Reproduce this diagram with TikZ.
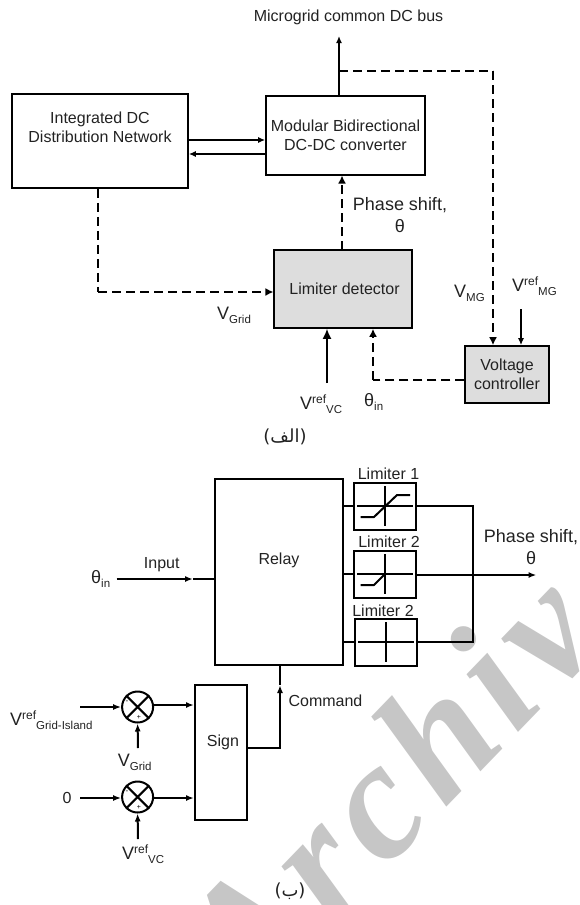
\documentclass[tikz,border=0pt]{standalone}
\usepackage{fontspec}
\usepackage{xcolor}
\setmainfont{Liberation Sans}
\newfontfamily\markfont[LetterSpace=6]{Liberation Serif}
\newfontfamily\arabicfont[Script=Arabic]{DejaVu Sans}
\TeXXeTstate=1
\usetikzlibrary{arrows.meta}
\definecolor{inkdark}{HTML}{222222}
\definecolor{boxgray}{HTML}{DDDDDD}
\definecolor{markgray}{HTML}{C6C6C6}
\newcommand{\supsub}[3]{{\fontsize{18}{18}\selectfont #1}\raisebox{6pt}{\fontsize{12}{12}\selectfont #2}\raisebox{-4pt}{\fontsize{11.5}{12}\selectfont #3}}
\tikzset{
txt/.style={inner sep=0pt,text=inkdark,font=\fontsize{16}{19}\selectfont,align=center},
bigtxt/.style={inner sep=0pt,text=inkdark,font=\fontsize{18}{22}\selectfont,align=center},
blockbox/.style={draw=black,line width=1.6pt,minimum width=#1,inner sep=0pt,text=inkdark,font=\fontsize{16}{19}\selectfont,align=center},
limbox/.style={draw=black,line width=2pt,minimum width=62pt,minimum height=47pt,inner sep=0pt},
sumnode/.style={draw=black,line width=2pt,circle,minimum size=31pt,inner sep=0pt},
link/.style={line width=1.6pt},
flow/.style={link,-{Latex[length=7pt,width=6pt]}},
dashlink/.style={link,dash pattern=on 9pt off 5pt},
dashflow/.style={dashlink,-{Latex[length=8pt,width=8pt]}},
wire/.style={line width=2pt},
heavy/.style={wire,-{Latex[length=8pt,width=6pt]}}
}
\begin{document}
\begin{tikzpicture}[x=1pt,y=-1pt]
\useasboundingbox (0,0) rectangle (580,905);
\begin{scope}
\clip (0,0) rectangle (580,905);
\node[rotate=46,anchor=base west,inner sep=0pt,text=markgray,font=\markfont\bfseries\itshape\fontsize{168}{168}\selectfont] (watermark) at (248,1013) {Archiv};
\end{scope}
% upper diagram
\node[blockbox=176pt,minimum height=94pt] (network) at (100,141) {Integrated DC\\Distribution Network\\[9pt]};
\node[blockbox=159pt,minimum height=79pt] (converter) at (345.5,135.5) {Modular Bidirectional\\DC-DC converter};
\node[blockbox=137.5pt,minimum height=78pt,fill=boxgray] (detector) at (343,289) {\hspace{3pt}Limiter detector};
\node[blockbox=83.5pt,minimum height=57pt,fill=boxgray] (voltage) at (507,374.5) {Voltage\\controller};
\node[txt] (bus) at (348.5,17) {Microgrid common DC bus};
\node[bigtxt] (phaseA) at (400,215) {Phase shift,\\θ};
\node[txt,anchor=west] (vgridA) at (217,315) {\supsub{V}{}{Grid}};
\node[txt,anchor=west] (vmg) at (454,293) {\supsub{V}{}{MG}};
\node[txt,anchor=west] (vrefmg) at (512,286) {\supsub{V}{ref}{MG}};
\node[txt,anchor=west] (vrefvcA) at (300,404) {\supsub{V}{ref}{VC}};
\node[txt,anchor=west] (thetainA) at (364,402) {\supsub{θ}{}{in}};
\node[txt,font=\arabicfont\fontsize{18}{20}\selectfont] (captionA) at (285,437) {\beginR(الف)\endR};
\coordinate (busTip) at (339,36);
\coordinate (tapDash) at (339,71);
\coordinate (cornerMG) at (493,71);
\coordinate (gridDown) at (98,292);
\coordinate (startMG) at (521,309);
\coordinate (startVC) at (327,383);
\coordinate (cornerIn) at (373,380);
\draw[flow] (converter.north -| busTip) -- (busTip);
\draw[dashlink] (tapDash) -- (cornerMG);
\draw[dashflow] (cornerMG) -- (cornerMG |- voltage.north);
\draw[flow] (network.east |- 0,140) -- (converter.west |- 0,140);
\draw[flow] (converter.west |- 0,154) -- (network.east |- 0,154);
\draw[dashflow] (342,250) -- (342,175.5);
\draw[dashlink] (gridDown |- network.south) -- (gridDown);
\draw[dashflow] (gridDown) -- (detector.west |- gridDown);
\draw[flow] (startMG) -- (startMG |- voltage.north);
\draw[line width=1.6pt,-{Latex[length=10pt,width=9pt]}] (startVC) -- (startVC |- detector.south);
\draw[dashlink] (voltage.west |- cornerIn) -- (cornerIn);
\draw[dashflow] (cornerIn) -- (cornerIn |- detector.south);
% lower diagram
\node[blockbox=128.7pt,minimum height=186pt,line width=2pt] (relay) at (279,572) {Relay\\[8pt]};
\node[blockbox=52pt,minimum height=135pt,line width=2pt] (sign) at (221,752.5) {\hspace{4pt}Sign\\[4pt]};
\node[limbox] (limA) at (385,506) {};
\node[limbox] (limB) at (385,574) {};
\node[limbox] (limC) at (386,642) {};
\node[txt] (limTextA) at (388.5,473.5) {Limiter 1};
\node[txt] (limTextB) at (389,542) {Limiter 2};
\node[txt] (limTextC) at (383,610.5) {Limiter 2};
\foreach \n in {limA,limB,limC}
\draw[line width=2pt,shift={(\n.center)}] (-28,0)--(28,0) (0,-20)--(0,20);
\draw[line width=2pt,shift={(limA.center)},line join=round] (-24.5,11)--(-11,11)--(12,-11)--(25,-11);
\draw[line width=2pt,shift={(limB.center)},line join=round] (-24.5,11)--(-11,11)--(0,0);
\node[sumnode] (sumA) at (137.6,707) {};
\node[sumnode] (sumB) at (137.6,797) {};
\foreach \n in {sumA,sumB}
\draw[line width=2pt] (\n.45)--(\n.225) (\n.135)--(\n.315);
\node[inner sep=0pt,font=\fontsize{8}{8}\selectfont] (minusA) at (127,702) {-};
\node[inner sep=0pt,font=\fontsize{8}{8}\selectfont] (minusB) at (127,792) {-};
\node[inner sep=0pt,font=\fontsize{7}{7}\selectfont] (plusA) at (139,717) {+};
\node[inner sep=0pt,font=\fontsize{7}{7}\selectfont] (plusB) at (139,807) {+};
\node[bigtxt] (phaseB) at (531,547) {Phase shift,\\θ};
\node[txt,anchor=west] (thetainB) at (91,579) {\supsub{θ}{}{in}};
\node[txt] (inputB) at (161.7,565) {Input};
\node[txt] (command) at (325.5,701) {Command};
\node[txt,anchor=west] (vrefisland) at (10,720) {\supsub{V}{ref}{Grid-Island}};
\node[txt,anchor=west] (vgridB) at (117.6,762) {\supsub{V}{}{Grid}};
\node[txt] (zero) at (67,798) {0};
\node[txt,anchor=west] (vrefvcB) at (122,854) {\supsub{V}{ref}{VC}};
\node[txt,font=\arabicfont\fontsize{18}{20}\selectfont] (captionB) at (290,891) {\beginR(ب)\endR};
\coordinate (busEnd) at (473,642);
\coordinate (phaseTip) at (536.5,575);
\coordinate (inStart) at (116.5,579);
\coordinate (inMid) at (193,579);
\coordinate (cmdTurn) at (280,748);
\coordinate (cmdMid) at (280,685);
\coordinate (islandStart) at (80,707);
\coordinate (zeroStart) at (80,798);
\coordinate (gridStart) at (138,748);
\coordinate (vcStart) at (138,839);
\draw[wire] (relay.east |- limA.west) -- (limA.west);
\draw[wire] (relay.east |- limB.west) -- (limB.west);
\draw[wire] (relay.east |- limC.west) -- (limC.west);
\draw[wire] (limA.east) -| (busEnd) -- (limC.east);
\draw[heavy] (limB.east |- phaseTip) -- (phaseTip);
\draw[heavy] (inStart) -- (inMid);
\draw[wire] (inMid) -- (relay.west |- inMid);
\draw[heavy] (sign.east |- cmdTurn) -- (cmdTurn) -- (cmdMid);
\draw[wire] (cmdMid) -- (relay.south -| cmdMid);
\draw[heavy] (islandStart) -- (sumA.west);
\draw[heavy] (zeroStart) -- (sumB.west |- zeroStart);
\draw[heavy] (sumA.east |- 0,705) -- (sign.west |- 0,705);
\draw[heavy] (sumB.east |- zeroStart) -- (sign.west |- zeroStart);
\draw[heavy] (gridStart) -- (sumA.south);
\draw[heavy] (vcStart) -- (sumB.south);
\end{tikzpicture}
\end{document}
